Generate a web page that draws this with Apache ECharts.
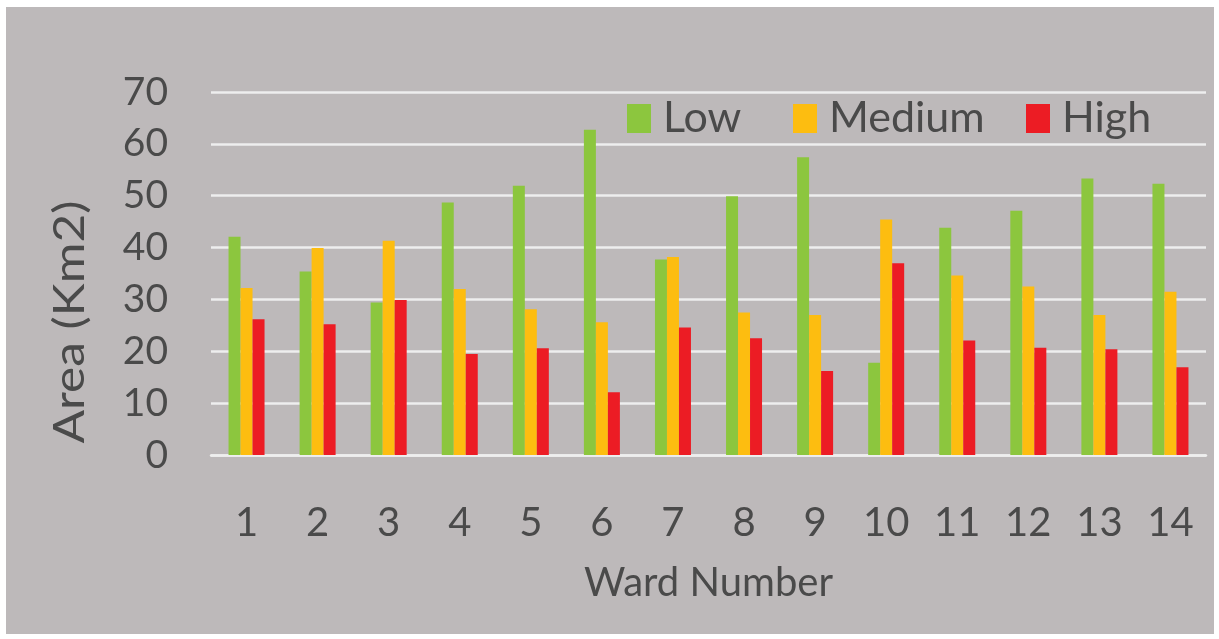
<!DOCTYPE html>
<html>
<head>
<meta charset="utf-8">
<title>Area by Ward</title>
<script src="https://cdn.jsdelivr.net/npm/echarts@6/dist/echarts.min.js"></script>
<style>
  html, body { margin: 0; padding: 0; background: #ffffff; }
  #panel { position: absolute; left: 6px; top: 7px; width: 1208px; height: 627px; background: #bdb9ba; }
  #chart { position: absolute; left: 0; top: 0; width: 1219px; height: 639px; }
</style>
</head>
<body>
<div id="panel"></div>
<div id="chart"></div>
<script>
// Ward numbers along the x axis
const wards = ['1', '2', '3', '4', '5', '6', '7', '8', '9', '10', '11', '12', '13', '14'];

// Area (km2) per risk class for each ward
const lowArea    = [42.1, 35.4, 29.4, 48.7, 51.9, 62.7, 37.7, 49.9, 57.4, 17.8, 43.8, 47.1, 53.3, 52.3];
const mediumArea = [32.2, 39.9, 41.3, 32.0, 28.1, 25.6, 38.2, 27.5, 27.0, 45.4, 34.6, 32.5, 27.0, 31.5];
const highArea   = [26.2, 25.2, 29.9, 19.5, 20.6, 12.1, 24.6, 22.5, 16.2, 37.0, 22.1, 20.7, 20.4, 16.9];

// Y axis range
const yMin = 0, yMax = 70, yStep = 10;

const FONT = 'Lato, "Open Sans", sans-serif';
const TEXT = '#4a4a4a';
const GRID_LINE = '#eeeeee';

const chart = echarts.init(document.getElementById('chart'), null, { renderer: 'canvas' });

// One legend block per series so each entry sits at its own spot
function legendItem(name, left) {
  return {
    data: [name],
    left: left,
    top: 92,
    itemWidth: 24,
    itemHeight: 29,
    icon: 'rect',
    textStyle: { fontFamily: FONT, fontSize: 43, color: TEXT, padding: [0, 0, 0, 7] }
  };
}

chart.setOption({
  backgroundColor: 'transparent',
  animation: false,
  grid: { left: 211, right: 13, top: 92, bottom: 184 },
  legend: [
    legendItem('Low', 622),
    legendItem('Medium', 788),
    legendItem('High', 1021)
  ],
  xAxis: {
    type: 'category',
    data: wards,
    axisLine: { show: true, lineStyle: { color: GRID_LINE, width: 2.5 } },
    axisTick: { show: false },
    axisLabel: { fontFamily: FONT, fontSize: 40, color: TEXT, margin: 48 },
    name: 'Ward Number',
    nameLocation: 'middle',
    nameGap: 108,
    nameTextStyle: { fontFamily: FONT, fontSize: 40, color: TEXT }
  },
  yAxis: {
    type: 'value',
    min: yMin,
    max: yMax,
    interval: yStep,
    axisLine: { show: false },
    axisTick: { show: false },
    axisLabel: { fontFamily: FONT, fontSize: 39, color: TEXT, margin: 43 },
    splitLine: { show: true, lineStyle: { color: GRID_LINE, width: 2.5 } }
  },
  graphic: [{
    type: 'text',
    x: 70,
    y: 322,
    rotation: Math.PI / 2,
    scaleX: 1.18,
    style: {
      text: 'Area (Km2)',
      fontFamily: FONT,
      fontSize: 42,
      fill: TEXT,
      align: 'center',
      verticalAlign: 'middle'
    }
  }],
  series: [
    { name: 'Low', type: 'bar', data: lowArea, barWidth: 12, barGap: '0%', itemStyle: { color: '#8cc63e' } },
    { name: 'Medium', type: 'bar', data: mediumArea, barWidth: 12, barGap: '0%', itemStyle: { color: '#fdbd10' } },
    { name: 'High', type: 'bar', data: highArea, barWidth: 12, barGap: '0%', itemStyle: { color: '#ec1c24' } }
  ]
});
</script>
</body>
</html>
